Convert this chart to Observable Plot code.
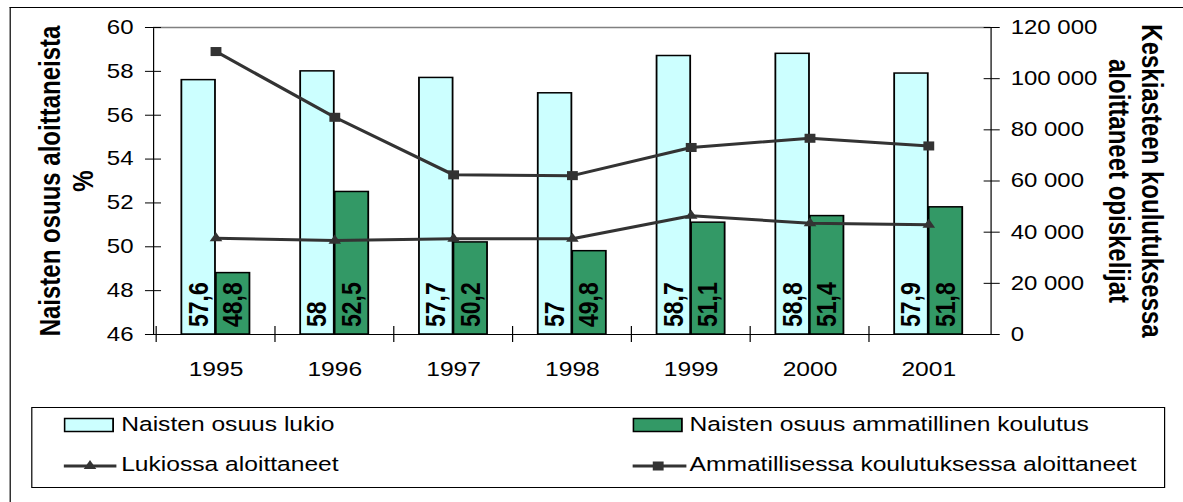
<!DOCTYPE html>
<html>
<head>
<meta charset="utf-8">
<script src="https://cdn.jsdelivr.net/npm/d3@7"></script>
<script src="https://cdn.jsdelivr.net/npm/@observablehq/plot@0.6"></script>
<style>
  html, body { margin: 0; padding: 0; background: #fff; overflow: hidden; }
  #wrap { position: absolute; left: 0; top: 0; width: 986px; height: 502px;
          transform: scaleX(1.2); transform-origin: 0 0;
          font-family: "Liberation Sans", Arial, sans-serif; color: #000; }
  #outer { position: absolute; left: 8.3px; top: 6.5px; right: 0; bottom: 0;
           border-left: 1px solid #000; border-top: 1px solid #000; }
  #chart { position: absolute; left: 0; top: 0; }
  #legend { position: absolute; left: 25.8px; top: 407.3px; width: 945.6px; height: 81px;
            border: 1px solid #000; box-sizing: border-box; background: #fff; }
  .item { position: absolute; font-size: 20.5px; line-height: 1; white-space: nowrap; }
  .sym { position: absolute; }
</style>
</head>
<body>
<div id="wrap">
  <div id="outer"></div>
  <div id="chart"></div>
  <div id="legend"></div>
</div>
<script>
// ---- data ----
const years = ["1995", "1996", "1997", "1998", "1999", "2000", "2001"];
const lukioShare = [57.6, 58, 57.7, 57, 58.7, 58.8, 57.9];          // %
const ammShare = [48.8, 52.5, 50.2, 49.8, 51.1, 51.4, 51.8];         // %
const lukioStarters = [37600, 36700, 37400, 37400, 46400, 43500, 42900];
const ammStarters = [110600, 84900, 62400, 62100, 73100, 76700, 73700];
const leftTicks = [46, 48, 50, 52, 54, 56, 58, 60];
const rightTicks = [0, 20000, 40000, 60000, 80000, 100000, 120000];
const seriesNames = ["Naisten osuus lukio", "Naisten osuus ammatillinen koulutus",
                     "Lukiossa aloittaneet", "Ammatillisessa koulutuksessa aloittaneet"];
const leftTitle = "Naisten osuus aloittaneista\n%";
const rightTitle = "Keskiasteen koulutuksessa\naloittaneet opiskelijat";

// ---- layout ----
const W = 986, H = 390;
const mL = 127.5, mR = W - 825.4, mT = 27, mB = 56;
const step = (W - mL - mR) / years.length;
const barW = 0.288 * step;
const yMin = 46, yMax = 60, rMax = 120000;
const toLeft = v => yMin + v / rMax * (yMax - yMin);
const fromLeft = y => (y - yMin) / (yMax - yMin) * rMax;
const fmtN = v => d3.format(",")(Math.round(v / 1000) * 1000).replace(/,/g, " ");
const fmtP = v => String(v).replace(".", ",");

const rows = years.map((year, i) => ({
  year, lukio: lukioShare[i], amm: ammShare[i],
  lukioN: lukioStarters[i], ammN: ammStarters[i]
}));

const lineColor = "#333333";
const lukioFill = "#CCFFFF";
const ammFill = "#339966";

const chart = Plot.plot({
  width: W, height: H,
  marginLeft: mL, marginRight: mR, marginTop: mT, marginBottom: mB,
  style: { fontFamily: "Liberation Sans, Arial, sans-serif", fontSize: "20px", color: "#000", background: "transparent", overflow: "visible" },
  x: { type: "band", domain: years, paddingInner: 0, paddingOuter: 0, axis: null, label: null },
  y: { domain: [yMin, yMax], axis: null, label: null },
  marks: [
    Plot.barY(rows, { x: "year", y1: yMin, y2: "lukio", fill: lukioFill, stroke: "#000", strokeWidth: 1.5,
                      insetLeft: step / 2 - barW, insetRight: step / 2 }),
    Plot.barY(rows, { x: "year", y1: yMin, y2: "amm", fill: ammFill, stroke: "#000", strokeWidth: 1.5,
                      insetLeft: step / 2, insetRight: step / 2 - barW }),
    Plot.text(rows, { x: "year", y: yMin, text: d => fmtP(d.lukio), rotate: -90, textAnchor: "start",
                      lineAnchor: "middle", dx: -barW / 2, dy: -7.5, fontSize: 23, fontWeight: "bold", fill: "#000" }),
    Plot.text(rows, { x: "year", y: yMin, text: d => fmtP(d.amm), rotate: -90, textAnchor: "start",
                      lineAnchor: "middle", dx: barW / 2, dy: -7.5, fontSize: 23, fontWeight: "bold", fill: "#000" }),
    Plot.frame({ stroke: "#000", strokeWidth: 1 }),
    Plot.ruleY([yMax], { stroke: "#808080", strokeWidth: 1.5 }),
    // left axis
    Plot.axisY(leftTicks, { anchor: "left", tickSize: 13.4, dx: 6.7, tickPadding: 10, fontSize: 20,
                            tickFormat: d => String(d), stroke: "#000", label: null }),
    // right axis
    Plot.axisY(rightTicks.map(toLeft), { anchor: "right", tickSize: 13.4, dx: -6.7, tickPadding: 9.6, fontSize: 20,
                            tickFormat: d => fmtN(fromLeft(d)), stroke: "#000", label: null }),
    // x tick marks at category boundaries
    Plot.axisX(years, { anchor: "bottom", tickSize: 16, dy: -8, dx: -step / 2, tickFormat: () => "", stroke: "#000", label: null }),
    // year labels
    Plot.axisX(years, { anchor: "bottom", tickSize: 0, tickPadding: 27, fontSize: 20.5, label: null }),
    // lines
    Plot.line(rows, { x: "year", y: d => toLeft(d.lukioN), stroke: lineColor, strokeWidth: 3 }),
    Plot.dot(rows, { x: "year", y: d => toLeft(d.lukioN), symbol: "triangle", r: 3.9, fill: lineColor, stroke: "none" }),
    Plot.line(rows, { x: "year", y: d => toLeft(d.ammN), stroke: lineColor, strokeWidth: 3 }),
    Plot.dot(rows, { x: "year", y: d => toLeft(d.ammN), symbol: "square", r: 5.1, fill: lineColor, stroke: "none" }),
    // axis titles
    Plot.text([leftTitle], { frameAnchor: "left", text: d => d, rotate: -90, dx: -73, lineAnchor: "middle",
                             textAnchor: "middle", lineHeight: 1.15, fontSize: 24, fontWeight: "bold", fill: "#000" }),
    Plot.text([rightTitle], { frameAnchor: "right", text: d => d, rotate: 90, dx: 120.9, lineAnchor: "middle",
                              textAnchor: "middle", lineHeight: 1.15, fontSize: 24, fontWeight: "bold", fill: "#000" })
  ]
});
document.getElementById("chart").appendChild(chart);

// ---- legend ----
const legend = document.getElementById("legend");
const rowY = [17, 57];      // centre of each legend row inside the box
const colSym = [26.1, 499.8];
const colText = [74.2, 547.8];
function addItem(col, row, label, symSvg) {
  const s = document.createElement("div");
  s.className = "sym";
  s.style.left = colSym[col] + "px";
  s.style.top = (rowY[row] - 8) + "px";
  s.innerHTML = symSvg;
  legend.appendChild(s);
  const t = document.createElement("div");
  t.className = "item";
  t.style.left = colText[col] + "px";
  t.style.top = (rowY[row] - 11) + "px";
  t.textContent = label;
  legend.appendChild(t);
}
const rectSym = fill => `<svg width="44" height="16"><rect x="0.75" y="1.5" width="40.5" height="13" fill="${fill}" stroke="#000" stroke-width="1.5"/></svg>`;
const triSym = `<svg width="46" height="16"><line x1="0" y1="9" x2="44" y2="9" stroke="${lineColor}" stroke-width="3"/>
  <path d="${d3.symbol(d3.symbolTriangle, Math.PI * 3.9 * 3.9)()}" transform="translate(22,9)" fill="${lineColor}"/></svg>`;
const sqSym = `<svg width="46" height="16"><line x1="0" y1="9" x2="45" y2="9" stroke="${lineColor}" stroke-width="3"/>
  <path d="${d3.symbol(d3.symbolSquare, Math.PI * 5.1 * 5.1)()}" transform="translate(21.5,9)" fill="${lineColor}"/></svg>`;
addItem(0, 0, seriesNames[0], rectSym(lukioFill));
addItem(1, 0, seriesNames[1], rectSym(ammFill));
addItem(0, 1, seriesNames[2], triSym);
addItem(1, 1, seriesNames[3], sqSym);
</script>
</body>
</html>
